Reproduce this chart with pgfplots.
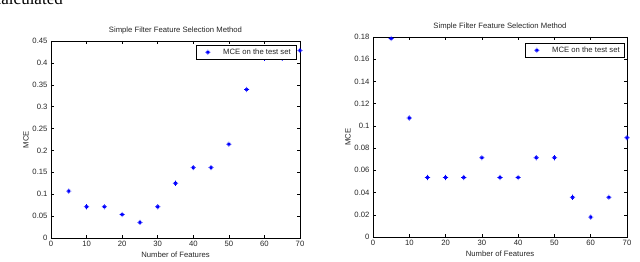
\documentclass[border=0pt]{standalone}
\usepackage{fontspec}
\setmainfont{Liberation Sans}
\newfontfamily\serifx{Liberation Serif}
\usepackage{pgfplots}
\pgfplotsset{compat=1.18}

\pgfdeclareplotmark{matstar}{%
  \pgfpathmoveto{\pgfqpoint{-\pgfplotmarksize}{0pt}}%
  \pgfpathlineto{\pgfqpoint{\pgfplotmarksize}{0pt}}%
  \pgfpathmoveto{\pgfqpoint{0pt}{-\pgfplotmarksize}}%
  \pgfpathlineto{\pgfqpoint{0pt}{\pgfplotmarksize}}%
  \pgfpathmoveto{\pgfqpoint{-0.5\pgfplotmarksize}{-0.5\pgfplotmarksize}}%
  \pgfpathlineto{\pgfqpoint{0.5\pgfplotmarksize}{0.5\pgfplotmarksize}}%
  \pgfpathmoveto{\pgfqpoint{-0.5\pgfplotmarksize}{0.5\pgfplotmarksize}}%
  \pgfpathlineto{\pgfqpoint{0.5\pgfplotmarksize}{-0.5\pgfplotmarksize}}%
  \pgfusepathqstroke}

\pgfplotstableread{
x y
5 0.1071
10 0.0714
15 0.0714
20 0.0536
25 0.0357
30 0.0714
35 0.1250
40 0.1607
45 0.1607
50 0.2143
55 0.3393
60 0.4107
65 0.4107
70 0.4286
}\lefttab
\pgfplotstableread{
x y
5 0.1786
10 0.1071
15 0.0536
20 0.0536
25 0.0536
30 0.0714
35 0.0536
40 0.0536
45 0.0714
50 0.0714
55 0.0357
60 0.0179
65 0.0357
70 0.0893
}\righttab

\pgfplotsset{
 mystyle/.style={
  scale only axis,
  axis line style={black, line width=0.5pt},
  tick style={black, line width=0.5pt},
  tick align=inside, major tick length=3pt,
  xmin=0, xmax=70, ymin=0, xtick={0,10,...,70},
  clip=false,
  scaled y ticks=false,
  yticklabel style={/pgf/number format/fixed, /pgf/number format/precision=2},
  /pgf/number format/assume math mode=true,
  tick label style={font=\fontsize{7.7}{9}\selectfont, text=black!85},
  title style={font=\fontsize{7.7}{9}\selectfont, text=black!85, yshift=-3pt},
  label style={font=\fontsize{7.7}{9}\selectfont, text=black!85},
  xlabel style={yshift=2pt},
  ylabel style={yshift=-3pt},
  xlabel={Number of Features}, ylabel={MCE},
  title={Simple Filter Feature Selection Method},
  legend cell align=left,
  legend image code/.code={%
    \node[draw=none, fill=none, inner sep=0pt, minimum width=22pt, minimum height=4pt] at (11pt,0pt) {};
    \draw[#1, only marks, mark repeat=2, mark phase=2] plot coordinates {(9pt,0pt) (20pt,0pt) (31pt,0pt)};},
  legend style={font=\fontsize{7.7}{9}\selectfont, draw=black, line width=0.5pt, fill=white,
    inner xsep=3pt, inner ysep=1.5pt, anchor=north east, text=black!85},
 },
 mce/.style={only marks, mark=matstar, mark size=2.6pt, color=blue, mark options={line width=0.7pt}},
}

\begin{document}
\begin{tikzpicture}
\useasboundingbox (0pt,0pt) rectangle (640pt,262pt);
\node[anchor=base east, inner sep=0, font=\serifx\fontsize{17}{17}\selectfont] at (63pt,257pt) {calculated};
\begin{axis}[mystyle, at={(51pt,24pt)}, anchor=south west, width=249pt, height=197pt,
  ymax=0.45, ytick={0,0.05,...,0.451},
  legend style={at={(rel axis cs:0.984,0.98)}}]
\addplot[mce] table[x=x,y=y] {\lefttab};
\addlegendentry{MCE on the test set}
\end{axis}
\begin{axis}[mystyle, at={(373pt,25pt)}, anchor=south west, width=254pt, height=200pt,
  ymax=0.18, ytick={0,0.02,...,0.181},
  legend style={at={(rel axis cs:0.992,0.97)}}]
\addplot[mce] table[x=x,y=y] {\righttab};
\addlegendentry{MCE on the test set}
\end{axis}
\end{tikzpicture}
\end{document}
